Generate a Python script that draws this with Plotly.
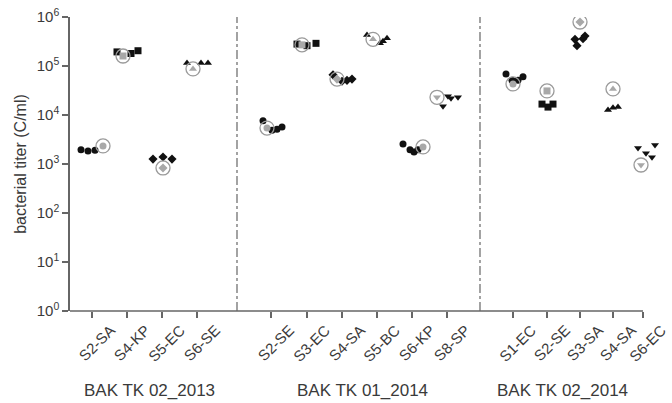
import plotly.graph_objects as go

# ---------------- data ----------------
categories = ["S2-SA", "S4-KP", "S5-EC", "S6-SE",
              "S2-SE", "S3-EC", "S4-SA", "S5-BC", "S6-KP", "S8-SP",
              "S1-EC", "S2-SE", "S3-SA", "S4-SA", "S6-EC"]
group_names = ["BAK TK 02_2013", "BAK TK 01_2014", "BAK TK 02_2014"]
symbols = ["circle", "square", "diamond", "triangle-up",
           "circle", "square", "diamond", "triangle-up", "circle", "triangle-down",
           "circle", "square", "diamond", "triangle-up", "triangle-down"]

# black replicate measurements
sample_values = [
    [1950, 1850, 1900],
    [194000, 180000, 205000],
    [1260, 1390, 1260],
    [115000, 115000, 115000],
    [7600, 4900, 5100, 5700],
    [280000, 260000, 290000],
    [66000, 49000, 51000, 54000],
    [430000, 290000, 320000, 370000],
    [2570, 1950, 1750, 1950],
    [15000, 24000, 22000, 23000],
    [69000, 51000, 51000, 60000],
    [16700, 14500, 16700],
    [350000, 260000, 410000, 360000],
    [12600, 14000, 14500],
    [2130, 1660, 1380, 2450],
]
# horizontal jitter of the replicates (axis units)
sample_jitter = [
    [-11, -4, 3], [-10, 4, 11], [-9, 1, 10], [-10, 4, 11],
    [-8, 1, 6, 11], [-10, 0, 9], [-9, 0, 5, 10], [-10, 3, 6, 10], [-9, -2, 2, 6], [-4, 1, 4, 11],
    [-7, -1, 5, 10], [-5, 1, 6], [-5, -3, 5, 3], [-5, 0, 5], [-5, 3, 9, 12],
]
# grey circled reference measurement
ref_values = [2340, 160000, 830, 87000,
              5400, 270000, 54000, 350000, 2230, 23000,
              43000, 31000, 790000, 34000, 955]
ref_jitter = [11, -4, 1, -4, -4, -5, -5, -4, 11, -10, 0, 0, 0, 0, -2]

# category tick positions along the x axis (axis units)
tick_pos = [22, 57, 92, 127, 201, 237, 272, 307, 342, 377, 443, 477, 510, 543, 573]
separator_pos = [167, 410]
group_centres = [79, 292, 492]
ytick_vals = [1, 10, 100, 1000, 10000, 100000, 1000000]
ytick_text = ["10<sup>%d</sup>" % i for i in range(7)]

# ---------------- figure ----------------
fig = go.Figure()
axis_grey = "#666666"
text_col = "#3a3a3a"
FONT = "Liberation Sans, Arial, sans-serif"

for i, cat in enumerate(categories):
    xs = [tick_pos[i] + d for d in sample_jitter[i]]
    fig.add_trace(go.Scatter(
        x=xs, y=sample_values[i], mode="markers",
        marker=dict(symbol=symbols[i], size=7, color="#111111",
                    line=dict(width=0)),
        showlegend=False, hoverinfo="y"))
    rx = tick_pos[i] + ref_jitter[i]
    fig.add_trace(go.Scatter(
        x=[rx], y=[ref_values[i]], mode="markers",
        marker=dict(symbol="circle-open", size=14, color="#9a9a9a",
                    line=dict(width=1.3, color="#9a9a9a")),
        showlegend=False, hoverinfo="skip"))
    fig.add_trace(go.Scatter(
        x=[rx], y=[ref_values[i]], mode="markers",
        marker=dict(symbol=symbols[i], size=7, color="#a8a8a8",
                    line=dict(width=0)),
        showlegend=False, hoverinfo="y"))

shapes = []
# x axis line
shapes.append(dict(type="line", xref="x", yref="paper", x0=0, x1=tick_pos[-1],
                   y0=0, y1=0, line=dict(color=axis_grey, width=1.5)))
for sp in separator_pos:
    shapes.append(dict(type="line", xref="x", yref="paper", x0=sp, x1=sp,
                       y0=0, y1=1, line=dict(color=axis_grey, width=1.2, dash="dashdot")))

annotations = []
# rotated category labels
for i, cat in enumerate(categories):
    annotations.append(dict(x=tick_pos[i], y=-0.109, xref="x", yref="paper",
                            xshift=4, text=cat, showarrow=False, textangle=-45,
                            xanchor="center", yanchor="middle",
                            font=dict(size=15, color=text_col, family=FONT)))
for name, cx in zip(group_names, group_centres):
    annotations.append(dict(x=cx, y=-0.27, xref="x", yref="paper",
                            text=name, showarrow=False, yanchor="middle",
                            font=dict(size=17, color=text_col, family=FONT)))

fig.update_layout(
    width=672, height=403,
    margin=dict(l=70, r=10, t=17, b=92, autoexpand=False),
    paper_bgcolor="white", plot_bgcolor="white",
    font=dict(family=FONT, color=text_col),
    shapes=shapes, annotations=annotations,
    xaxis=dict(range=[0, 592], tickmode="array", tickvals=tick_pos,
               ticktext=["" for _ in categories], ticks="outside",
               ticklen=6, tickwidth=1.5, tickcolor=axis_grey,
               showline=False, showgrid=False, zeroline=False,
               automargin=False),
    yaxis=dict(type="log", range=[0, 6], tickmode="array",
               tickvals=ytick_vals, ticktext=ytick_text,
               ticks="outside", ticklen=6, tickwidth=1.5, tickcolor=axis_grey,
               showline=True, linecolor=axis_grey, linewidth=1.5,
               showgrid=False, zeroline=False, automargin=False,
               tickfont=dict(size=15, color=text_col),
               title=dict(text="bacterial titer (C/ml)", standoff=6,
                          font=dict(size=16, color=text_col))),
)

fig.write_html("out.html", config={"displayModeBar": False},
               post_script="document.body.style.margin='0';document.body.style.overflow='hidden';")
